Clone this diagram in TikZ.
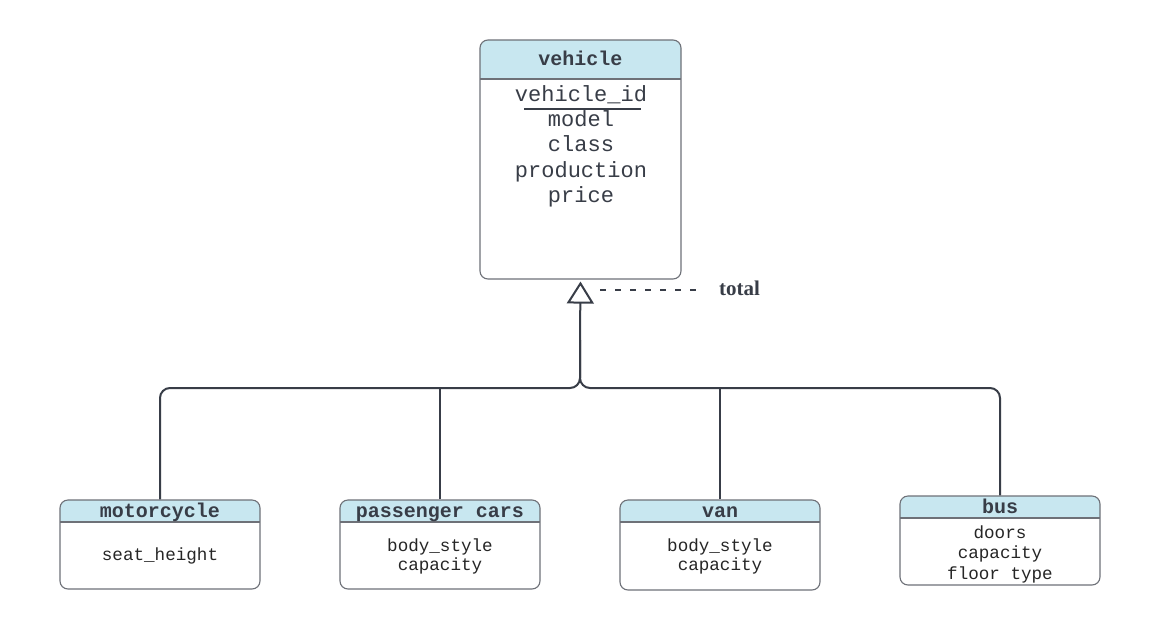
\documentclass[tikz,border=0pt]{standalone}
\usepackage{fontspec}
\setmainfont{Liberation Serif}
\setmonofont{Liberation Mono}
\usetikzlibrary{arrows.meta,fit}
\definecolor{inkc}{HTML}{383D47}
\definecolor{edgec}{HTML}{6E7178}
\definecolor{headc}{HTML}{C8E7F0}
\tikzset{
  boxline/.style={draw=edgec, line width=1.1pt},
  conn/.style={draw=inkc, line width=2pt},
  bigtxt/.style={inner sep=0pt, anchor=base, text=inkc, font=\ttfamily\fontsize{22}{24}\selectfont},
  smalltxt/.style={inner sep=0pt, anchor=base, text=black!85, font=\ttfamily\fontsize{17.6}{20}\selectfont},
  headtxt/.style={inner sep=0pt, anchor=base, text=inkc, font=\ttfamily\bfseries\fontsize{20}{22}\selectfont},
}
% name, x1, y1, x2, y2, yh
\newcommand{\erbox}[6]{%
  \fill[white, rounded corners=8pt] (#2,#3) rectangle (#4,#5);
  \fill[headc] [rounded corners=8pt] (#2,#6) -- (#2,#3) -- (#4,#3) [sharp corners] -- (#4,#6) -- cycle;
  \draw[boxline] (#2,#6) -- (#4,#6);
  \coordinate (#1-nw) at (#2,#3);
  \coordinate (#1-se) at (#4,#5);
  \node[fit=(#1-nw)(#1-se), inner sep=0pt, boxline, rounded corners=8pt] (#1) {};
}
\begin{document}
\begin{tikzpicture}[x=1pt, y=-1pt]
\useasboundingbox[fill=white] (0,0) rectangle (1160,630);

% boxes
\erbox{veh}{480}{40}{681}{279}{79}
\erbox{moto}{60}{500}{260}{589}{522}
\erbox{pc}{340}{500}{540}{589}{522}
\erbox{van}{620}{500}{820}{590}{522}
\erbox{bus}{900}{496}{1100}{585}{518}

% vehicle texts
\node[headtxt] (vehT) at (580.5,65) {vehicle};
\node[bigtxt] (v1) at (581,101) {vehicle\_id};
\node[bigtxt] (v2) at (581,126.5) {model};
\node[bigtxt] (v3) at (581,151.5) {class};
\node[bigtxt] (v4) at (581,177) {production};
\node[bigtxt] (v5) at (581,202) {price};
\coordinate (ulA) at (524,109);
\coordinate (ulB) at (641,109);
\draw[draw=inkc, line width=1.4pt] (ulA) -- (ulB);

% motorcycle
\node[headtxt] (motoT) at (160,517) {motorcycle};
\node[smalltxt] (m1) at (160,560) {seat\_height};

% passenger cars
\node[headtxt] (pcT) at (440,517) {passenger cars};
\node[smalltxt] (p1) at (440,551) {body\_style};
\node[smalltxt] (p2) at (440,570) {capacity};

% van
\node[headtxt] (vanT) at (720,517) {van};
\node[smalltxt] (n1) at (720,551) {body\_style};
\node[smalltxt] (n2) at (720,570) {capacity};

% bus
\node[headtxt] (busT) at (1000,513) {bus};
\node[smalltxt] (b1) at (1000,538) {doors};
\node[smalltxt] (b2) at (1000,558.5) {capacity};
\node[smalltxt] (b3) at (1000,579) {floor type};

% connectors
\coordinate (jn) at (580,388);
\coordinate (jtop) at (580,340);
\draw[conn, rounded corners=10pt] (moto.north) |- (jn) -- (jtop);
\draw[conn, rounded corners=10pt] (bus.north) |- (jn) -- (jtop);
\draw[conn] (pc.north) -- (pc.north |- jn);
\draw[conn] (van.north) -- (van.north |- jn);
\draw[conn, -{Triangle[open, length=22pt, width=27pt, line width=2pt]}, shorten >=2pt] (jtop) -- (veh.south);

% total
\coordinate (dA) at (600,290);
\coordinate (dB) at (700,290);
\draw[conn, dash pattern=on 6pt off 9pt] (dA) -- (dB);
\node[inner sep=0pt, anchor=base west, text=inkc, font=\bfseries\fontsize{21}{24}\selectfont] (tot) at (719,295) {total};
\end{tikzpicture}
\end{document}
